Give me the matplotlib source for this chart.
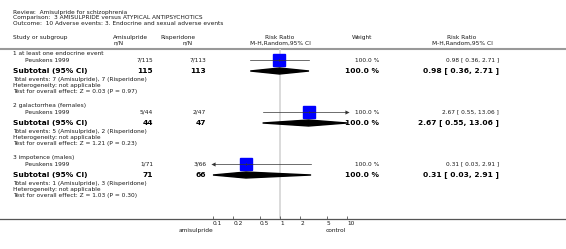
import matplotlib.pyplot as plt
import numpy as np
from matplotlib.patches import Polygon

# data
groups = ['1 at least one endocrine event', '2 galactorrhea (females)', '3 impotence (males)']
study = ['Peuskens 1999', 'Peuskens 1999', 'Peuskens 1999']
ami_events = [7, 5, 1]
ami_total = [115, 44, 71]
ris_events = [7, 2, 3]
ris_total = [113, 47, 66]
rr = [0.98, 2.67, 0.31]
ci_low = [0.36, 0.55, 0.03]
ci_high = [2.71, 13.06, 2.91]
weights = [100.0, 100.0, 100.0]
z_vals = [0.03, 1.21, 1.03]
p_vals = [0.97, 0.23, 0.30]
ticks = [0.1, 0.2, 0.5, 1, 2, 5, 10]
tick_labels = ['0.1', '0.2', '0.5', '1', '2', '5', '10']

W, H = 566, 249
fig = plt.figure(figsize=(W / 100, H / 100), dpi=100)
plt.rcParams['font.family'] = 'DejaVu Sans'

# text layer in pixel coordinates
tx = fig.add_axes([0, 0, 1, 1])
tx.set_xlim(0, W)
tx.set_ylim(H, 0)
tx.axis('off')

fs = 4.2
fb = 5.4
dark = '#1a1a1a'

tx.text(13, 12, 'Review:  Amisulpride for schizophrenia', fontsize=fs, va='center', color=dark)
tx.text(13, 17.5, 'Comparison:  3 AMISULPRIDE versus ATYPICAL ANTIPSYCHOTICS', fontsize=fs, va='center', color=dark)
tx.text(13, 23, 'Outcome:  10 Adverse events: 3. Endocrine and sexual adverse events', fontsize=fs, va='center', color=dark)

tx.text(13, 37.5, 'Study or subgroup', fontsize=fs, va='center', color=dark)
tx.text(148, 37.5, 'Amisulpride', fontsize=fs, va='center', ha='right', color=dark)
tx.text(124, 43, 'n/N', fontsize=fs, va='center', ha='right', color=dark)
tx.text(160, 37.5, 'Risperidone', fontsize=fs, va='center', color=dark)
tx.text(193, 43, 'n/N', fontsize=fs, va='center', ha='right', color=dark)
tx.text(280, 37.5, 'Risk Ratio', fontsize=fs, va='center', ha='center', color=dark)
tx.text(280, 43, 'M-H,Random,95% CI', fontsize=fs, va='center', ha='center', color=dark)
tx.text(352, 37.5, 'Weight', fontsize=fs, va='center', color=dark)
tx.text(462, 37.5, 'Risk Ratio', fontsize=fs, va='center', ha='center', color=dark)
tx.text(462, 43, 'M-H,Random,95% CI', fontsize=fs, va='center', ha='center', color=dark)

tx.plot([0, W], [49, 49], color='#999999', lw=1.5)
tx.plot([0, W], [219, 219], color='#555555', lw=0.9)

# forest axes: x log scale 0.1..10, y in pixel rows
x0, x1 = 213, 347
y0, y1 = 49, 219
fx = fig.add_axes([x0 / W, 1 - y1 / H, (x1 - x0) / W, (y1 - y0) / H])
fx.set_xscale('log')
fx.set_xlim(0.1, 10)
fx.set_ylim(y1, y0)
fx.patch.set_alpha(0)
for s in fx.spines.values():
    s.set_visible(False)
fx.set_yticks([])
fx.set_xticks(ticks)
fx.set_xticklabels(tick_labels, fontsize=fs, color=dark, ha='left')
fx.minorticks_off()
fx.tick_params(axis='x', direction='in', length=2, width=0.6, color='#555555', pad=1.5)
fx.axvline(1, color='#d8d8d8', lw=1.3, zorder=0)

tx.text(213, 230, 'amisulpride', fontsize=fs, va='center', ha='right', color=dark)
tx.text(346, 230, 'control', fontsize=fs, va='center', ha='right', color=dark)

bases = [53, 105, 157]
for i, b in enumerate(bases):
    ys = b + 7
    ysub = b + 18
    tx.text(13, b, groups[i], fontsize=fs, va='center', color=dark)
    tx.text(25, ys, study[i], fontsize=fs, va='center', color=dark)
    tx.text(153, ys, '{}/{}'.format(ami_events[i], ami_total[i]), fontsize=fs, va='center', ha='right', color=dark)
    tx.text(206, ys, '{}/{}'.format(ris_events[i], ris_total[i]), fontsize=fs, va='center', ha='right', color=dark)
    tx.text(379, ys, '{:.1f} %'.format(weights[i]), fontsize=fs, va='center', ha='right', color=dark)
    tx.text(499, ys, '{:.2f} [ {:.2f}, {:.2f} ]'.format(rr[i], ci_low[i], ci_high[i]),
            fontsize=fs, va='center', ha='right', color=dark)

    tx.text(13, ysub, 'Subtotal (95% CI)', fontsize=fb, va='center', fontweight='bold', color='black')
    tx.text(153, ysub, str(ami_total[i]), fontsize=fb, va='center', ha='right', fontweight='bold', color='black')
    tx.text(206, ysub, str(ris_total[i]), fontsize=fb, va='center', ha='right', fontweight='bold', color='black')
    tx.text(379, ysub, '{:.1f} %'.format(weights[i]), fontsize=fb, va='center', ha='right', fontweight='bold', color='black')
    tx.text(499, ysub, '{:.2f} [ {:.2f}, {:.2f} ]'.format(rr[i], ci_low[i], ci_high[i]),
            fontsize=fb, va='center', ha='right', fontweight='bold', color='black')
    tx.text(13, b + 26, 'Total events: {} (Amisulpride), {} (Risperidone)'.format(ami_events[i], ris_events[i]),
            fontsize=fs, va='center', color=dark)
    tx.text(13, b + 32, 'Heterogeneity: not applicable', fontsize=fs, va='center', color=dark)
    tx.text(13, b + 38, 'Test for overall effect: Z = {:.2f} (P = {:.2f})'.format(z_vals[i], p_vals[i]),
            fontsize=fs, va='center', color=dark)

    # study CI and square
    lo = max(ci_low[i], 0.1)
    hi = min(ci_high[i], 10)
    fx.plot(rr[i], ys, marker='s', ms=9.2, color='#0000ff', mec='#0000ff', zorder=2)
    fx.plot([lo, hi], [ys, ys], color='#333333', lw=0.5, zorder=3)
    fx.plot([rr[i], rr[i]], [ys - 1.2, ys + 1.2], color='#333333', lw=0.5, zorder=3)
    if ci_low[i] < 0.1:
        fx.plot(lo, ys, marker='<', ms=3, mew=0, color='#333333', zorder=3, clip_on=False)
    if ci_high[i] > 10:
        fx.plot(hi, ys, marker='>', ms=3, mew=0, color='#333333', zorder=3, clip_on=False)

    # subtotal diamond
    dia = Polygon([[lo, ysub], [rr[i], ysub - 3], [hi, ysub], [rr[i], ysub + 3]],
                  closed=True, color='black', zorder=3, clip_on=False)
    fx.add_patch(dia)

fig.savefig('out.png', dpi=100)
